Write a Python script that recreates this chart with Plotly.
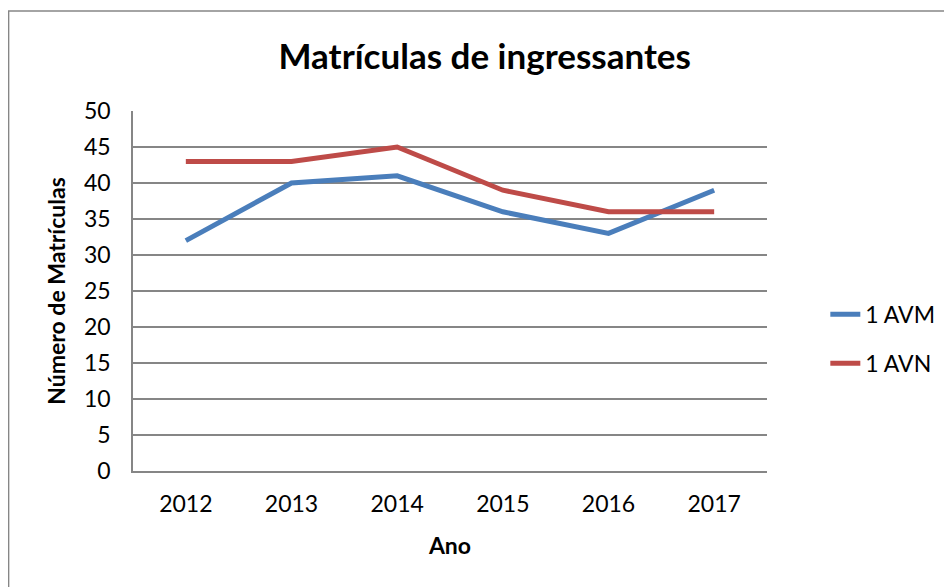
import plotly.graph_objects as go

anos = ["2012", "2013", "2014", "2015", "2016", "2017"]
avm = [32, 40, 41, 36, 33, 39]
avn = [43, 43, 45, 39, 36, 36]

FONT = "Lato, 'Open Sans', sans-serif"
GRID = "#868686"

fig = go.Figure()

fig.add_trace(go.Scatter(
    x=anos, y=avm, name="1 AVM", mode="lines", legendgroup="avm",
    line=dict(color="#4A7EBB", width=5)
))
fig.add_trace(go.Scatter(
    x=anos, y=avn, name="1 AVN", mode="lines", legendgroup="avn",
    line=dict(color="#BE4B48", width=5)
))

# chart frame (Excel style border)
fig.add_shape(type="rect", xref="paper", yref="paper",
              x0=-0.1962, y0=-0.4, x1=1.4, y1=1.2778,
              line=dict(color="#868686", width=1.5), layer="below")

# page body adds 8px offset, so figure is 944x579 and margins shift by 8
fig.update_layout(
    width=944, height=579,
    margin=dict(l=125, r=182, t=103, b=116),
    paper_bgcolor="white", plot_bgcolor="white",
    font=dict(family=FONT, size=23, color="black"),
    title=dict(text="<b>Matrículas de ingressantes</b>",
               x=0.505, xanchor="center", y=1 - 49 / 579, yanchor="middle",
               font=dict(size=35)),
    showlegend=True,
    legend=dict(x=1.092, xanchor="left", y=0.367, yanchor="middle",
                font=dict(size=23), tracegroupgap=16,
                bgcolor="rgba(0,0,0,0)"),
)

fig.update_xaxes(
    type="category", range=[-0.5, 5.5],
    showgrid=False, showline=True, linecolor=GRID, linewidth=1.5,
    ticks="", tickfont=dict(size=23), ticklabelstandoff=12,
    title=dict(text="<b>Ano</b>", font=dict(size=23), standoff=22),
)
fig.update_yaxes(
    range=[0, 50], dtick=5,
    showgrid=True, gridcolor=GRID, gridwidth=1.5,
    showline=True, linecolor=GRID, linewidth=1.5,
    zeroline=False, ticks="", tickfont=dict(size=23), ticklabelstandoff=16,
    title=dict(text="<b>Número de Matrículas</b>", font=dict(size=23), standoff=12),
)

fig.write_html("out.html")
